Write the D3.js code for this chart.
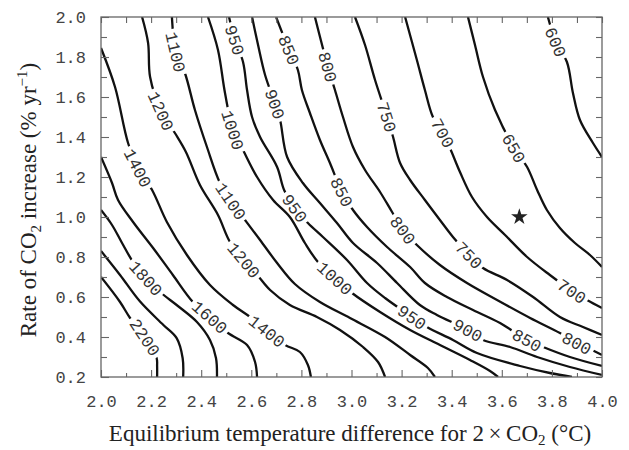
<!DOCTYPE html>
<html>
<head>
<meta charset="utf-8">
<script src="https://cdn.jsdelivr.net/npm/d3@7"></script>
<style>
  html, body { margin: 0; padding: 0; background: #fff; }
  svg { display: block; }
</style>
</head>
<body>
<div id="chart"></div>
<script>
// contour lines, [temperature difference, rate]
var line2200 = [[2.0,0.70],[2.076,0.575],[2.116,0.495],[2.176,0.40],[2.222,0.295],[2.224,0.255],[2.224,0.20]];
var line2000 = [[2.0,0.83],[2.076,0.71],[2.156,0.577],[2.249,0.46],[2.302,0.394],[2.326,0.294],[2.328,0.20]];
var line1800 = [[2.0,1.035],[2.044,0.96],[2.084,0.87],[2.128,0.775],[2.180,0.695],[2.236,0.625],[2.307,0.555],[2.383,0.475],[2.435,0.385],[2.459,0.295],[2.463,0.20]];
var line1600 = [[2.0,1.30],[2.044,1.17],[2.068,1.085],[2.128,0.975],[2.208,0.845],[2.287,0.71],[2.367,0.575],[2.435,0.50],[2.507,0.42],[2.583,0.36],[2.615,0.275],[2.623,0.20]];
var line1400 = [[2.0,1.845],[2.056,1.65],[2.108,1.37],[2.148,1.245],[2.204,1.135],[2.263,0.975],[2.343,0.81],[2.435,0.66],[2.527,0.56],[2.595,0.50],[2.663,0.43],[2.735,0.36],[2.794,0.325],[2.826,0.26],[2.838,0.20]];
var line1200 = [[2.164,2.0],[2.188,1.87],[2.196,1.70],[2.240,1.53],[2.295,1.42],[2.339,1.325],[2.395,1.16],[2.467,1.01],[2.515,0.875],[2.571,0.785],[2.627,0.705],[2.675,0.635],[2.754,0.56],[2.862,0.50],[2.954,0.435],[3.046,0.35],[3.106,0.275],[3.134,0.20]];
var line1100 = [[2.283,2.0],[2.299,1.825],[2.335,1.72],[2.375,1.535],[2.423,1.35],[2.475,1.17],[2.519,1.08],[2.575,0.985],[2.635,0.885],[2.703,0.77],[2.774,0.665],[2.874,0.575],[2.994,0.495],[3.134,0.40],[3.234,0.31],[3.305,0.245],[3.333,0.20]];
var line1000 = [[2.427,2.0],[2.467,1.835],[2.495,1.62],[2.527,1.435],[2.567,1.335],[2.623,1.20],[2.687,1.085],[2.754,1.0],[2.814,0.87],[2.866,0.775],[2.934,0.695],[3.002,0.62],[3.114,0.525],[3.234,0.435],[3.353,0.36],[3.473,0.285],[3.553,0.23],[3.585,0.20]];
var line950 = [[2.511,2.0],[2.535,1.885],[2.567,1.775],[2.583,1.635],[2.603,1.50],[2.635,1.40],[2.703,1.25],[2.731,1.135],[2.774,1.045],[2.826,0.97],[2.886,0.90],[2.982,0.785],[3.062,0.67],[3.134,0.595],[3.242,0.50],[3.301,0.45],[3.405,0.385],[3.501,0.32],[3.673,0.255],[3.792,0.22],[3.880,0.20]];
var line900 = [[2.603,2.0],[2.627,1.86],[2.655,1.71],[2.695,1.565],[2.715,1.485],[2.743,1.30],[2.806,1.17],[2.874,1.07],[2.942,0.97],[3.006,0.87],[3.102,0.77],[3.182,0.67],[3.273,0.56],[3.341,0.51],[3.465,0.435],[3.525,0.385],[3.633,0.35],[3.741,0.30],[3.872,0.25],[4.0,0.21]];
var line850 = [[2.699,2.0],[2.751,1.835],[2.786,1.735],[2.802,1.635],[2.834,1.52],[2.874,1.385],[2.914,1.27],[2.962,1.125],[3.006,1.035],[3.062,0.95],[3.142,0.85],[3.234,0.75],[3.293,0.67],[3.381,0.60],[3.485,0.535],[3.593,0.47],[3.701,0.385],[3.765,0.35],[3.872,0.30],[4.0,0.255]];
var line800 = [[2.854,2.0],[2.906,1.75],[2.934,1.635],[2.966,1.50],[3.006,1.35],[3.054,1.235],[3.114,1.125],[3.162,1.025],[3.206,0.935],[3.261,0.86],[3.353,0.76],[3.461,0.67],[3.581,0.585],[3.713,0.495],[3.832,0.42],[3.900,0.37],[3.960,0.335],[4.0,0.31]];
var line750 = [[3.014,2.0],[3.054,1.86],[3.094,1.685],[3.142,1.50],[3.166,1.40],[3.194,1.27],[3.234,1.185],[3.293,1.085],[3.353,0.985],[3.405,0.90],[3.469,0.81],[3.525,0.745],[3.621,0.685],[3.725,0.60],[3.832,0.50],[3.924,0.45],[4.0,0.41]];
var line700 = [[3.214,2.0],[3.261,1.785],[3.293,1.635],[3.325,1.50],[3.365,1.42],[3.393,1.345],[3.433,1.225],[3.481,1.10],[3.541,1.0],[3.613,0.91],[3.701,0.80],[3.792,0.71],[3.880,0.63],[3.940,0.585],[4.0,0.545]];
var line650 = [[3.465,2.0],[3.493,1.86],[3.525,1.70],[3.573,1.535],[3.649,1.345],[3.701,1.25],[3.741,1.135],[3.780,1.035],[3.832,0.945],[3.892,0.87],[3.952,0.81],[4.0,0.75]];
var line600 = [[3.784,2.0],[3.816,1.875],[3.860,1.775],[3.884,1.62],[3.912,1.485],[3.964,1.37],[4.0,1.30]];

// where the contour values are written: [level, temperature, rate]
var labelSpots = [
  [2200, 2.176, 0.40],
  [1800, 2.180, 0.695],
  [1600, 2.435, 0.50],
  [1400, 2.148, 1.245], [1400, 2.663, 0.43],
  [1200, 2.240, 1.53], [1200, 2.571, 0.785],
  [1100, 2.299, 1.825], [1100, 2.519, 1.08],
  [1000, 2.527, 1.435], [1000, 2.934, 0.695],
  [950, 2.535, 1.885], [950, 2.774, 1.045], [950, 3.242, 0.50],
  [900, 2.695, 1.565], [900, 3.465, 0.435],
  [850, 2.751, 1.835], [850, 2.962, 1.125], [850, 3.701, 0.385],
  [800, 2.906, 1.75], [800, 3.206, 0.935], [800, 3.900, 0.37],
  [750, 3.142, 1.50], [750, 3.469, 0.81],
  [700, 3.365, 1.42], [700, 3.880, 0.63],
  [650, 3.649, 1.345],
  [600, 3.816, 1.875]
];

var starPoint = [3.67, 1.0];

var xTicks = [2.0, 2.2, 2.4, 2.6, 2.8, 3.0, 3.2, 3.4, 3.6, 3.8, 4.0];
var xMinor = [2.1, 2.3, 2.5, 2.7, 2.9, 3.1, 3.3, 3.5, 3.7, 3.9];
var yTicks = [0.2, 0.4, 0.6, 0.8, 1.0, 1.2, 1.4, 1.6, 1.8, 2.0];
var yMinor = [0.3, 0.5, 0.7, 0.9, 1.1, 1.3, 1.5, 1.7, 1.9];

var contours = [
  {level: 2200, pts: line2200}, {level: 2000, pts: line2000}, {level: 1800, pts: line1800},
  {level: 1600, pts: line1600}, {level: 1400, pts: line1400}, {level: 1200, pts: line1200},
  {level: 1100, pts: line1100}, {level: 1000, pts: line1000}, {level: 950, pts: line950},
  {level: 900, pts: line900}, {level: 850, pts: line850}, {level: 800, pts: line800},
  {level: 750, pts: line750}, {level: 700, pts: line700}, {level: 650, pts: line650},
  {level: 600, pts: line600}
];

var width = 629,
    height = 450,
    plotLeft = 101,
    plotRight = 602,
    plotTop = 17,
    plotBottom = 377,
    frameColor = "#666",
    labelSize = 17;

var svg = d3.select("#chart").append("svg")
    .attr("width", width)
    .attr("height", height);

var x = d3.scaleLinear().domain([2, 4]).range([plotLeft, plotRight]);
var y = d3.scaleLinear().domain([0.2, 2.0]).range([plotBottom, plotTop]);

var defs = svg.append("defs");
defs.append("clipPath").attr("id", "plotclip")
  .append("rect")
    .attr("x", plotLeft).attr("y", plotTop)
    .attr("width", plotRight - plotLeft).attr("height", plotBottom - plotTop);

// angle of the line at a label, from its neighbouring points
function labelPlace(spot) {
  var c = contours.find(function(d) { return d.level === spot[0]; });
  var pts = c.pts, best = 0, bestD = Infinity;
  pts.forEach(function(p, i) {
    var d = Math.pow(x(p[0]) - x(spot[1]), 2) + Math.pow(y(p[1]) - y(spot[2]), 2);
    if (d < bestD) { bestD = d; best = i; }
  });
  var a = pts[Math.max(best - 1, 0)], b = pts[Math.min(best + 1, pts.length - 1)];
  var ang = Math.atan2(y(b[1]) - y(a[1]), x(b[0]) - x(a[0])) * 180 / Math.PI;
  if (ang > 90) ang -= 180;
  if (ang < -90) ang += 180;
  return {level: spot[0], px: x(spot[1]), py: y(spot[2]), angle: ang,
          w: String(spot[0]).length * labelSize * 0.6 + 6};
}

var places = labelSpots.map(labelPlace);

// one mask per contour so a label only breaks its own line
contours.forEach(function(c) {
  var m = defs.append("mask")
      .attr("id", "gap" + c.level)
      .attr("maskUnits", "userSpaceOnUse")
      .attr("x", 0).attr("y", 0).attr("width", width).attr("height", height);
  m.append("rect").attr("width", width).attr("height", height).style("fill", "white");
  places.filter(function(p) { return p.level === c.level; }).forEach(function(p) {
    m.append("rect")
      .attr("transform", "translate(" + p.px + "," + p.py + ") rotate(" + p.angle + ")")
      .attr("x", -p.w / 2).attr("y", -8)
      .attr("width", p.w).attr("height", 16)
      .style("fill", "black");
  });
});

var line = d3.line()
    .x(function(d) { return x(d[0]); })
    .y(function(d) { return y(d[1]); })
    .curve(d3.curveCatmullRom.alpha(0.5));

var plot = svg.append("g").attr("clip-path", "url(#plotclip)");

plot.selectAll("path.contour")
    .data(contours)
  .enter().append("path")
    .attr("class", "contour")
    .attr("d", function(d) { return line(d.pts); })
    .attr("mask", function(d) { return "url(#gap" + d.level + ")"; })
    .style("fill", "none")
    .style("stroke", "#111")
    .style("stroke-width", 2.3)
    .style("stroke-linejoin", "round");

svg.selectAll("text.clabel")
    .data(places)
  .enter().append("text")
    .attr("class", "clabel")
    .attr("transform", function(d) { return "translate(" + d.px + "," + d.py + ") rotate(" + d.angle + ")"; })
    .attr("text-anchor", "middle")
    .attr("dy", "0.36em")
    .style("font-family", "'Liberation Mono', 'DejaVu Sans Mono', monospace")
    .style("font-size", labelSize + "px")
    .style("fill", "#333")
    .text(function(d) { return d.level; });

svg.append("path")
    .attr("d", d3.symbol(d3.symbolStar).size(85)())
    .attr("transform", "translate(" + x(starPoint[0]) + "," + y(starPoint[1]) + ")")
    .style("fill", "#222");

// axes, ticks pointing inwards
function styleAxis(g) {
  g.select(".domain").remove();
  g.selectAll(".tick line").style("stroke", frameColor).style("stroke-width", 1.1);
  g.selectAll(".tick text")
    .style("font-family", "'Liberation Mono', 'DejaVu Sans Mono', monospace")
    .style("font-size", "17px")
    .style("fill", "#444");
}

svg.append("g").attr("transform", "translate(0," + plotBottom + ")")
    .call(d3.axisBottom(x).tickValues(xMinor).tickSize(-4).tickFormat(""))
    .call(styleAxis);
svg.append("g").attr("transform", "translate(0," + plotBottom + ")")
    .call(d3.axisBottom(x).tickValues(xTicks).tickSize(-7).tickPadding(18).tickFormat(d3.format(".1f")))
    .call(styleAxis);
svg.append("g").attr("transform", "translate(0," + plotTop + ")")
    .call(d3.axisTop(x).tickValues(xTicks.concat(xMinor)).tickSize(-6).tickFormat(""))
    .call(styleAxis);

svg.append("g").attr("transform", "translate(" + plotLeft + ",0)")
    .call(d3.axisLeft(y).tickValues(yMinor).tickSize(-6).tickFormat(""))
    .call(styleAxis);
svg.append("g").attr("transform", "translate(" + plotLeft + ",0)")
    .call(d3.axisLeft(y).tickValues(yTicks).tickSize(-8).tickPadding(15).tickFormat(d3.format(".1f")))
    .call(styleAxis);
svg.append("g").attr("transform", "translate(" + plotRight + ",0)")
    .call(d3.axisRight(y).tickValues(yTicks.concat(yMinor)).tickSize(-6).tickFormat(""))
    .call(styleAxis);

svg.append("rect")
    .attr("x", plotLeft).attr("y", plotTop)
    .attr("width", plotRight - plotLeft).attr("height", plotBottom - plotTop)
    .style("fill", "none")
    .style("stroke", frameColor)
    .style("stroke-width", 1.3);

// axis titles
var serif = "'Liberation Serif', 'DejaVu Serif', serif";

var xt = svg.append("text")
    .attr("x", 350).attr("y", 441)
    .attr("text-anchor", "middle")
    .style("font-family", serif)
    .style("font-size", "23px")
    .style("fill", "#222");
xt.append("tspan").text("Equilibrium temperature difference for 2\u2009\u00d7\u2009CO");
xt.append("tspan").attr("dy", 4).style("font-size", "15px").text("2");
xt.append("tspan").attr("dy", -4).text(" (\u00b0C)");

var yt = svg.append("text")
    .attr("transform", "translate(36,200) rotate(-90)")
    .attr("text-anchor", "middle")
    .style("font-family", serif)
    .style("font-size", "23px")
    .style("fill", "#222");
yt.append("tspan").text("Rate of CO");
yt.append("tspan").attr("dy", 5).style("font-size", "15px").text("2");
yt.append("tspan").attr("dy", -5).text(" increase (% yr");
yt.append("tspan").attr("dy", -9).style("font-size", "15px").text("\u22121");
yt.append("tspan").attr("dy", 9).text(")");
</script>
</body>
</html>
